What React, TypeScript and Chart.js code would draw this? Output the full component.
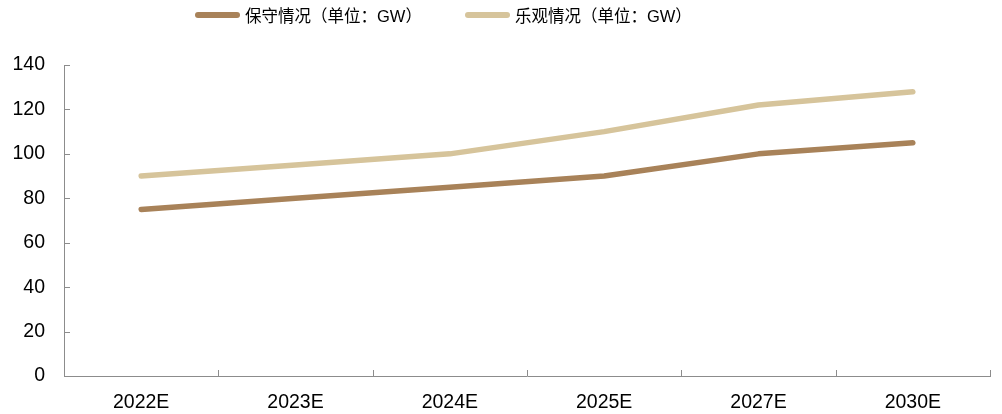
import React, { useEffect, useRef } from "react";
import { Chart, registerables } from "chart.js";

Chart.register(...registerables);

const categories = ["2022E", "2023E", "2024E", "2025E", "2027E", "2030E"];
const conservative = [75, 80, 85, 90, 100, 105];
const optimistic = [90, 95, 100, 110, 122, 128];
const seriesNames = ["保守情况（单位：GW）", "乐观情况（单位：GW）"];
const seriesColors = ["#A88259", "#D6C49B"];
const yTicks = [0, 20, 40, 60, 80, 100, 120, 140];

const AXIS_COLOR = "#8c8c8c";
const TICK_FONT = { family: "'Liberation Sans', Arial, sans-serif", size: 19.5 };

// Short tick marks that point into the plot area, on both axes.
const innerTicks = {
  id: "innerTicks",
  afterDatasetsDraw(chart: any) {
    const { ctx, chartArea, scales } = chart;
    const x = scales.x;
    const y = scales.y;
    const len = 6;
    ctx.save();
    ctx.strokeStyle = AXIS_COLOR;
    ctx.lineWidth = 1;
    ctx.beginPath();
    // category boundaries on the x axis
    for (let i = 0; i <= categories.length; i++) {
      const px = Math.round(x.getPixelForValue(i - 0.5)) + 0.5;
      ctx.moveTo(px, chartArea.bottom);
      ctx.lineTo(px, chartArea.bottom - len);
    }
    // value ticks on the y axis
    for (const v of yTicks) {
      const py = Math.round(y.getPixelForValue(v)) + 0.5;
      ctx.moveTo(chartArea.left, py);
      ctx.lineTo(chartArea.left + len, py);
    }
    ctx.stroke();
    ctx.restore();
  },
};

export default function App() {
  const canvasRef = useRef<HTMLCanvasElement | null>(null);

  useEffect(() => {
    if (!canvasRef.current) return;
    const chart = new Chart(canvasRef.current, {
      type: "line",
      data: {
        labels: categories,
        datasets: [
          {
            label: seriesNames[0],
            data: conservative,
            borderColor: seriesColors[0],
            backgroundColor: seriesColors[0],
            borderWidth: 5.5,
            pointRadius: 0,
            borderCapStyle: "round",
            borderJoinStyle: "round",
            tension: 0,
          },
          {
            label: seriesNames[1],
            data: optimistic,
            borderColor: seriesColors[1],
            backgroundColor: seriesColors[1],
            borderWidth: 5.5,
            pointRadius: 0,
            borderCapStyle: "round",
            borderJoinStyle: "round",
            tension: 0,
          },
        ],
      },
      options: {
        animation: false,
        responsive: false,
        maintainAspectRatio: false,
        layout: { padding: { left: 0, right: 12, top: 65, bottom: 0 } },
        plugins: {
          legend: { display: false },
          tooltip: { enabled: false },
        },
        scales: {
          x: {
            offset: true,
            afterFit: (scale: any) => {
              scale.height = 38;
            },
            grid: { display: true, drawOnChartArea: false, drawTicks: false },
            border: { display: true, color: AXIS_COLOR, width: 1 },
            ticks: { color: "#000", font: TICK_FONT, padding: 15, maxRotation: 0 },
          },
          y: {
            min: 0,
            max: 140,
            afterBuildTicks: (scale: any) => {
              scale.ticks = yTicks.map((v) => ({ value: v }));
            },
            afterFit: (scale: any) => {
              scale.width = 64;
            },
            grid: { display: true, drawOnChartArea: false, drawTicks: false },
            border: { display: true, color: AXIS_COLOR, width: 1 },
            ticks: { color: "#000", font: TICK_FONT, padding: 19 },
          },
        },
      },
      plugins: [innerTicks],
    });
    return () => chart.destroy();
  }, []);

  const legendItem = (i: number) => (
    <div style={{ display: "flex", alignItems: "center" }}>
      <span
        style={{
          display: "inline-block",
          width: 45,
          height: 6,
          borderRadius: 3,
          background: seriesColors[i],
          marginRight: 5,
        }}
      />
      <span>{seriesNames[i]}</span>
    </div>
  );

  return (
    <div style={{ position: "fixed", left: 0, top: 0, width: 1002, height: 414, background: "#fff" }}>
      <div
        style={{
          position: "absolute",
          left: 195,
          top: 3,
          height: 24,
          display: "flex",
          alignItems: "center",
          gap: 43,
          fontFamily: "'Liberation Sans', 'Noto Sans CJK SC', sans-serif",
          fontSize: 16.5,
          color: "#000",
          whiteSpace: "nowrap",
        }}
      >
        {legendItem(0)}
        {legendItem(1)}
      </div>
      <canvas ref={canvasRef} width={1002} height={414} style={{ display: "block" }} />
    </div>
  );
}
